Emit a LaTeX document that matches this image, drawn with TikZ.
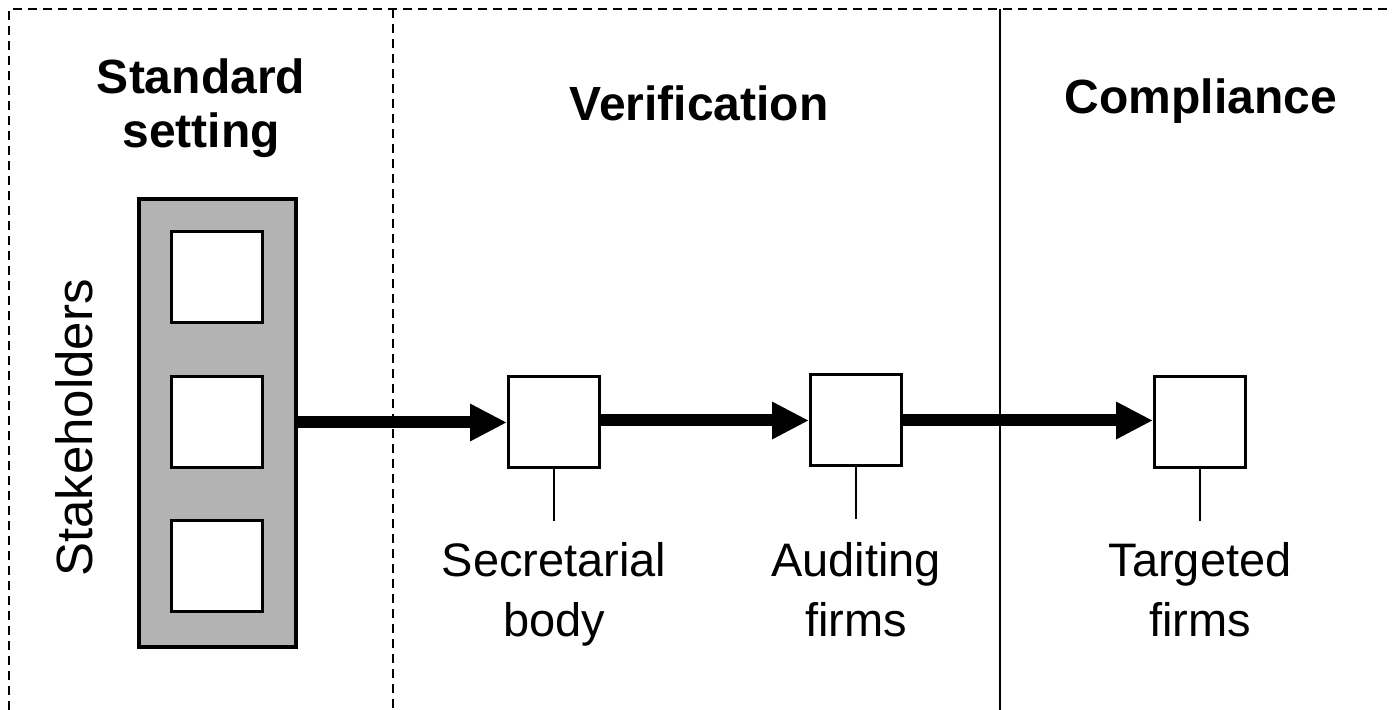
\documentclass[tikz,border=0pt]{standalone}
\usepackage{fontspec}
\setmainfont{Liberation Sans}
\usetikzlibrary{arrows.meta}
\definecolor{boxgray}{HTML}{B3B3B3}
\begin{document}
\begin{tikzpicture}[x=0.5pt,y=-0.5pt,
  frame/.style={line width=1pt,dash pattern=on 4.5pt off 3pt},
  sq/.style={draw,line width=1.5pt,fill=white,minimum width=45.5pt,minimum height=45.5pt,inner sep=0pt},
  flow/.style={line width=6pt,-{Triangle[length=18.5pt,width=17.5pt]}},
  tick/.style={line width=0.9pt},
  title/.style={font=\fontsize{24}{27}\selectfont\bfseries,align=center,inner sep=0pt},
  lab/.style={font=\fontsize{23.5}{30}\selectfont,align=center,inner sep=0pt,anchor=north}]
\useasboundingbox (0,0) rectangle (1393,710);
% frame
\coordinate (bl) at (9,710);
\coordinate (tl) at (9,9);
\coordinate (tr) at (1393,9);
\coordinate (d1t) at (393,9);
\coordinate (d1b) at (393,710);
\coordinate (s1t) at (1000,9);
\coordinate (s1b) at (1000,710);
\draw[frame] (bl) -- (tl) -- (tr);
\draw[frame] (d1t) -- (d1b);
\draw[line width=1pt] (s1t) -- (s1b);
% titles
\node[title,anchor=north] (t1) at (201,58) {Standard\\setting};
\node[title,anchor=base] (t2) at (699,121) {Verification};
\node[title,anchor=base] (t3) at (1201,114) {Compliance};
% stakeholders box
\node[draw,line width=2pt,fill=boxgray,minimum width=78.5pt,minimum height=224pt,inner sep=0pt] (stk) at (217.5,423) {};
\node[sq] (q1) at (216.5,277) {};
\node[sq] (q2) at (216.5,422) {};
\node[sq] (q3) at (216.5,566) {};
\node[font=\fontsize{25.5}{30}\selectfont,rotate=90,inner sep=0pt] (stl) at (74,428) {Stakeholders};
% actors
\node[sq] (sec) at (554,422.5) {};
\node[sq] (aud) at (856,420.5) {};
\node[sq] (tar) at (1200,422.5) {};
\draw[flow] (stk.east |- sec.west) -- (sec.west);
\draw[flow] (sec.east |- aud.west) -- (aud.west);
\draw[flow] (aud.east) -- (aud.east -| tar.west);
% ticks and labels
\coordinate (secb) at (554,521);
\coordinate (audb) at (856,519);
\coordinate (tarb) at (1200,521);
\draw[tick] (sec.south) -- (secb);
\draw[tick] (aud.south) -- (audb);
\draw[tick] (tar.south) -- (tarb);
\node[lab] (secl) at (554,542) {Secretarial\\body};
\node[lab] (audl) at (856,542) {Auditing\\firms};
\node[lab] (tarl) at (1200,542) {Targeted\\firms};
\end{tikzpicture}
\end{document}
